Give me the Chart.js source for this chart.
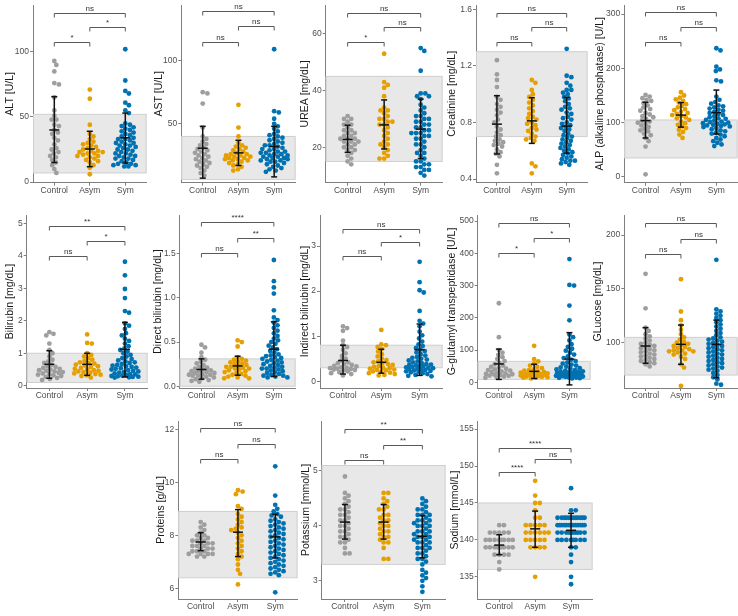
<!DOCTYPE html>
<html>
<head>
<meta charset="utf-8">
<script src="https://cdn.jsdelivr.net/npm/chart.js@4.4.0/dist/chart.umd.min.js"></script>
<style>
  body { margin: 0; background: #fff; }
  #wrap { position: relative; width: 738px; height: 616px; overflow: hidden; }
  canvas { position: absolute; }
</style>
</head>
<body>
<div id="wrap"></div>
<script>
const groups = ['Control', 'Asym', 'Sym'];
const colors = ['#9e9e9e', '#e69f00', '#0072b2'];

// ALT
const altCtrl = [93,90,85,76,75,65,55,51,48,48,44,43,40,38,37,34,32,29,26,25,23,22,20,19,17,15,13,10,7];
const altAsym = [71,64,44,37,35,33,31,30,29,28,27,26,25,24,24,23,23,22,22,21,20,20,19,18,17,16,15,13,11,6];
const altSym = [102,78,70,68,61,59,55,53,45,44,43,42,41,40,39,38,37,36,35,34,33,33,32,31,30,30,29,28,28,27,26,25,25,24,23,22,22,21,20,20,19,18,18,17,16,15,14,14,13,13,12,12];
const altErr = [[15,40,65.6],[11.8,25.4,39],[14.6,34,53]]; // sd low, mean, sd high
const altBand = [7, 52];
const altTicks = ['0', '50', '100'];
const altSig = ['ns', '*', '*'];

// AST
const astCtrl = [75,74,66,47,40,38,36,34,33,31,30,29,28,27,26,25,24,23,22,21,20,19,18,17,16,15,13,11,9];
const astAsym = [65,47,40,35,33,32,31,30,29,28,27,26,26,25,25,24,24,23,23,22,22,21,21,20,19,18,17,16,14,13];
const astSym = [109,60,59,54,50,48,46,44,42,41,40,39,38,37,36,35,34,33,33,32,31,30,30,29,28,28,27,27,26,26,25,25,24,24,23,23,22,22,21,21,20,20,19,18,17,16,15,14,13,12];
const astErr = [[7,30.7,48],[17,27,37],[8,32,48]];
const astBand = [6, 40];
const astTicks = ['50', '100'];
const astSig = ['ns', 'ns', 'ns'];

// UREA
const ureaCtrl = [31,30,30,29,28,28,27,26,26,25,25,24,24,23,23,23,22,22,22,21,21,20,20,19,19,18,17,16,15,14];
const ureaAsym = [53,43,42,41,38,34,33,33,32,31,30,30,29,29,28,28,27,26,25,24,23,22,21,21,20,19,18,17,16,16];
const ureaSym = [55,54,47,39,39,38,38,37,35,34,33,32,31,31,30,30,29,29,28,28,27,27,26,26,25,25,25,24,24,23,23,22,21,21,20,19,18,18,17,16,15,15,14,14,13,13,12,12,11,10];
const ureaErr = [[18.2,22.8,27.8],[19.4,27.9,36.7],[16,26.4,37]];
const ureaBand = [15, 45];
const ureaTicks = ['20', '40', '60'];
const ureaSig = ['ns', 'ns', '*'];

// Creatinine
const creaCtrl = [1.24,1.14,1.10,1.05,0.98,0.96,0.93,0.91,0.89,0.87,0.85,0.82,0.80,0.77,0.75,0.73,0.71,0.70,0.68,0.67,0.66,0.65,0.64,0.63,0.61,0.59,0.58,0.56,0.50,0.44];
const creaAsym = [1.10,1.08,1.03,1.00,0.98,0.96,0.94,0.92,0.90,0.88,0.86,0.84,0.83,0.82,0.80,0.79,0.78,0.76,0.75,0.74,0.72,0.70,0.69,0.68,0.67,0.51,0.49,0.44];
const creaSym = [1.32,1.13,1.12,1.08,1.06,1.03,1.03,1.01,1.00,0.98,0.97,0.95,0.93,0.91,0.90,0.89,0.87,0.86,0.84,0.83,0.82,0.80,0.79,0.78,0.77,0.76,0.75,0.74,0.72,0.71,0.70,0.69,0.68,0.67,0.66,0.65,0.64,0.63,0.62,0.61,0.60,0.59,0.58,0.57,0.56,0.55,0.54,0.53,0.53,0.52,0.51,0.50];
const creaErr = [[0.577,0.788,0.989],[0.652,0.811,0.975],[0.583,0.774,0.977]];
const creaBand = [0.7, 1.3];
const creaTicks = ['0.4', '0.8', '1.2', '1.6'];
const creaSig = ['ns', 'ns', 'ns'];

// ALP
const alpCtrl = [151,148,145,142,140,136,132,128,125,122,118,115,112,110,107,104,102,100,98,95,92,89,86,84,80,77,72,66,56,5];
const alpAsym = [156,150,146,143,140,137,134,131,128,125,123,120,118,116,114,112,110,108,105,102,99,96,93,90,87,83,78,72];
const alpSym = [237,233,203,198,195,178,176,148,142,138,135,132,130,128,126,124,122,120,118,116,114,112,110,108,107,105,104,102,101,100,99,98,97,96,95,94,93,92,90,88,86,84,82,80,78,75,72,69,66,63,60,57];
const alpErr = [[71.8,103.7,137.5],[91.8,114,136.8],[79,118.4,160]];
const alpBand = [35, 105];
const alpTicks = ['0', '100', '200', '300'];
const alpSig = ['ns', 'ns', 'ns'];

// Bilirubin
const biliCtrl = [1.65,1.60,1.55,1.30,1.10,1.00,0.90,0.80,0.75,0.70,0.65,0.60,0.58,0.55,0.52,0.50,0.48,0.46,0.44,0.42,0.40,0.38,0.36,0.34,0.32,0.30,0.27,0.24,0.21,0.18];
const biliAsym = [1.58,1.32,1.30,1.00,0.95,0.90,0.85,0.80,0.76,0.72,0.70,0.68,0.65,0.62,0.60,0.58,0.55,0.52,0.50,0.48,0.46,0.44,0.42,0.40,0.38,0.36,0.34,0.32,0.30,0.25];
const biliSym = [3.82,3.40,2.98,2.70,2.30,2.25,1.92,1.85,1.75,1.62,1.55,1.45,1.38,1.30,1.22,1.15,1.10,1.05,1.00,0.95,0.90,0.85,0.82,0.78,0.75,0.72,0.70,0.67,0.64,0.62,0.60,0.58,0.56,0.54,0.52,0.50,0.48,0.46,0.44,0.42,0.40,0.38,0.36,0.35,0.33,0.31,0.30,0.29,0.28,0.27,0.26,0.25];
const biliErr = [[0.23,0.66,1.08],[0.32,0.66,1.0],[0.27,1.12,1.95]];
const biliBand = [0.1, 1.0];
const biliTicks = ['0', '1', '2', '3', '4', '5'];
const biliSig = ['**', '*', 'ns'];

// Direct bilirubin
const dbilCtrl = [0.47,0.44,0.38,0.33,0.30,0.28,0.26,0.24,0.22,0.21,0.20,0.19,0.18,0.17,0.17,0.16,0.15,0.15,0.14,0.13,0.13,0.12,0.12,0.11,0.10,0.09,0.08,0.07,0.06,0.05];
const dbilAsym = [0.52,0.50,0.45,0.33,0.31,0.30,0.29,0.28,0.27,0.26,0.25,0.24,0.23,0.22,0.22,0.21,0.20,0.20,0.19,0.18,0.17,0.16,0.15,0.14,0.13,0.12,0.11,0.10,0.09,0.09];
const dbilSym = [1.43,1.19,1.12,1.05,0.86,0.78,0.75,0.72,0.69,0.66,0.63,0.60,0.57,0.54,0.52,0.50,0.48,0.46,0.44,0.42,0.40,0.38,0.36,0.35,0.34,0.33,0.32,0.31,0.30,0.29,0.28,0.27,0.26,0.25,0.24,0.23,0.22,0.21,0.20,0.20,0.19,0.18,0.17,0.16,0.15,0.14,0.13,0.12,0.12,0.11,0.10,0.10];
const dbilErr = [[0.08,0.19,0.31],[0.125,0.23,0.34],[0.11,0.42,0.73]];
const dbilBand = [0.0, 0.31];
const dbilTicks = ['0.0', '0.5', '1.0', '1.5'];
const dbilSig = ['****', '**', 'ns'];

// Indirect bilirubin
const ibilCtrl = [1.22,1.18,1.12,0.90,0.80,0.76,0.70,0.62,0.56,0.50,0.46,0.42,0.40,0.38,0.36,0.34,0.33,0.31,0.30,0.29,0.28,0.27,0.26,0.25,0.24,0.22,0.20,0.18,0.16,0.13];
const ibilAsym = [1.14,0.82,0.80,0.76,0.72,0.66,0.60,0.55,0.50,0.47,0.44,0.42,0.40,0.38,0.36,0.34,0.32,0.30,0.29,0.28,0.26,0.25,0.24,0.22,0.21,0.19,0.18,0.16,0.14,0.13];
const ibilSym = [2.65,2.20,2.02,1.97,1.56,1.34,1.28,1.22,1.10,1.02,0.95,0.88,0.82,0.78,0.74,0.70,0.67,0.64,0.60,0.57,0.54,0.52,0.50,0.48,0.46,0.44,0.42,0.40,0.38,0.37,0.36,0.35,0.34,0.33,0.32,0.31,0.30,0.29,0.28,0.27,0.26,0.25,0.24,0.23,0.22,0.21,0.20,0.18,0.16,0.14,0.12,0.11];
const ibilErr = [[0.16,0.46,0.8],[0.18,0.42,0.71],[0.13,0.70,1.27]];
const ibilBand = [0.3, 0.8];
const ibilTicks = ['0', '1', '2', '3'];
const ibilSig = ['ns', '*', 'ns'];

// G-glutamyl transpeptidase
const ggtCtrl = [245,140,100,92,85,78,72,66,60,56,52,48,45,42,40,38,36,34,32,30,28,26,25,24,22,21,20,18,16,14];
const ggtAsym = [113,72,65,58,52,48,44,40,38,36,34,32,30,29,28,27,26,25,24,23,22,21,20,19,18,17,16,15,14,12];
const ggtSym = [382,302,300,238,192,148,140,130,118,110,104,98,92,86,80,75,70,66,62,58,55,52,49,46,44,42,40,38,36,34,33,32,31,30,29,28,27,26,25,24,23,22,21,20,19,18,17,16,15,14,13,12];
const ggtErr = [[9,57,103],[12,34,56],[-8,72,154]];
const ggtBand = [9, 65];
const ggtTicks = ['0', '100', '200', '300', '400', '500'];
const ggtSig = ['ns', '*', '*'];

// Glucose
const gluCtrl = [164,132,114,111,108,106,104,102,100,99,98,97,96,95,94,93,92,91,90,89,88,87,86,85,84,83,82,81,80,78];
const gluAsym = [159,129,121,116,112,108,105,103,101,100,99,98,97,96,95,94,93,93,92,92,91,90,89,87,85,80,77,60];
const gluSym = [177,131,129,127,125,123,121,119,117,115,113,111,109,107,105,104,103,102,101,100,99,98,97,96,95,94,93,92,91,90,89,88,87,86,85,84,83,82,81,80,79,78,77,76,75,74,72,70,68,66,62,61];
const gluErr = [[81,97,114],[80,98.5,116.5],[67.5,98.5,121]];
const gluBand = [70, 105];
const gluTicks = ['100', '150', '200'];
const gluSig = ['ns', 'ns', 'ns'];

// Proteins
const protCtrl = [8.5,8.4,8.3,8.2,8.1,8.0,8.0,7.9,7.9,7.8,7.8,7.8,7.7,7.7,7.7,7.6,7.6,7.6,7.5,7.5,7.5,7.4,7.4,7.4,7.3,7.3,7.3,7.3,7.2,7.2];
const protAsym = [9.7,9.65,9.55,9.1,9.0,8.8,8.7,8.6,8.5,8.4,8.3,8.25,8.2,8.1,8.0,7.9,7.8,7.7,7.6,7.5,7.4,7.3,7.2,7.1,6.9,6.7,6.55,6.15];
const protSym = [10.6,9.5,9.15,9.0,8.9,8.8,8.75,8.7,8.6,8.55,8.5,8.45,8.4,8.35,8.3,8.25,8.2,8.15,8.1,8.05,8.0,7.95,7.9,7.85,7.8,7.75,7.7,7.65,7.6,7.55,7.5,7.45,7.4,7.35,7.3,7.25,7.2,7.15,7.1,7.05,7.0,6.95,6.9,6.85,6.8,6.75,6.7,6.65,6.6,6.55,6.5,5.85];
const protErr = [[7.42,7.75,8.1],[7.2,8.12,8.97],[7.15,7.94,8.8]];
const protBand = [6.4, 8.9];
const protTicks = ['6', '8', '10', '12'];
const protSig = ['ns', 'ns', 'ns'];

// Potassium
const potCtrl = [4.9,4.6,4.55,4.5,4.45,4.4,4.35,4.3,4.3,4.25,4.2,4.2,4.15,4.1,4.1,4.05,4.0,4.0,3.95,3.9,3.9,3.85,3.8,3.8,3.75,3.7,3.7,3.6,3.5,3.5];
const potAsym = [4.6,4.6,4.5,4.45,4.4,4.35,4.3,4.3,4.2,4.2,4.15,4.1,4.1,4.05,4.0,4.0,3.95,3.9,3.9,3.85,3.8,3.8,3.75,3.7,3.7,3.6,3.4,3.4];
const potSym = [4.5,4.45,4.4,4.35,4.3,4.3,4.25,4.2,4.2,4.2,4.15,4.1,4.1,4.1,4.05,4.05,4.0,4.0,4.0,3.95,3.9,3.9,3.9,3.85,3.85,3.8,3.8,3.8,3.75,3.75,3.7,3.7,3.7,3.65,3.6,3.6,3.6,3.55,3.5,3.5,3.45,3.4,3.4,3.35,3.3,3.2,3.15,3.1,3.05,3.0,2.9,2.8];
const potErr = [[3.76,4.07,4.39],[3.76,4.07,4.39],[3.42,3.81,4.19]];
const potBand = [3.3, 5.1];
const potTicks = ['3', '4', '5'];
const potSig = ['**', '**', 'ns'];

// Sodium
const naCtrl = [142,142,141,141,141,141,141,140,140,140,140,140,140,140,140,139,139,139,139,139,139,139,139,139,138,138,138,138,137,136];
const naAsym = [148,146,145,145,144,143,143,142,142,142,142,142,141,141,141,141,141,141,140,140,140,140,140,139,139,139,139,135];
const naSym = [147,144,144,143,143,143,143,143,143,143,143,143,143,143,143,142,142,142,142,142,142,142,142,142,142,142,142,142,141,141,141,141,141,141,141,141,141,141,140,140,140,140,140,140,140,140,139,139,138,137,135,134];
const naErr = [[138,139.3,140.7],[139,141.5,143.9],[139,141.3,143.6]];
const naBand = [136, 145];
const naTicks = ['135', '140', '145', '150', '155'];
const naSig = ['****', 'ns', '****'];

// brackets: Control-Sym, Asym-Sym, Control-Asym
const pairs = [[1, 3], [2, 3], [1, 2]];

// panel frames in page pixels (L/R/T/B = plot area, tx = centre of the y title)
const row1 = {T: 5, B: 182.7}, row2 = {T: 215, B: 388}, row3 = {T: 421, B: 599};

const panels = [
  {title: 'ALT [U/L]', vals: [altCtrl, altAsym, altSym], err: altErr, band: altBand, ticks: altTicks, sig: altSig,
   box: {...row1, L: 33, R: 143, tx: 10, min: -0.5, max: 136, brk: [130, 119, 107.5]}},
  {title: 'AST [U/L]', vals: [astCtrl, astAsym, astSym], err: astErr, band: astBand, ticks: astTicks, sig: astSig,
   box: {...row1, L: 181.3, R: 292, tx: 159.7, min: 3.4, max: 144, brk: [139, 127, 115]}},
  {title: 'UREA [mg/dL]', vals: [ureaCtrl, ureaAsym, ureaSym], err: ureaErr, band: ureaBand, ticks: ureaTicks, sig: ureaSig,
   box: {...row1, L: 325.7, R: 439, tx: 305, min: 7.5, max: 70.2, brk: [67.5, 62.6, 57]}},
  {title: 'Creatinine [mg/dL]', vals: [creaCtrl, creaAsym, creaSym], err: creaErr, band: creaBand, ticks: creaTicks, sig: creaSig,
   box: {...row1, L: 476, R: 584, tx: 452.7, min: 0.374, max: 1.63, brk: [1.576, 1.473, 1.367]}},
  {title: 'ALP (alkaline phosphatase) [U/L]', vals: [alpCtrl, alpAsym, alpSym], err: alpErr, band: alpBand, ticks: alpTicks, sig: alpSig,
   box: {...row1, L: 624.3, R: 734, tx: 600, min: -10.5, max: 316.6, brk: [303.7, 276, 248]}},
  {title: 'Bilirubin [mg/dL]', vals: [biliCtrl, biliAsym, biliSym], err: biliErr, band: biliBand, ticks: biliTicks, sig: biliSig,
   box: {...row2, L: 26.7, R: 144, tx: 10, min: -0.07, max: 5.26, brk: [4.93, 4.46, 4.0]}},
  {title: 'Direct bilirubin [mg/dL]', vals: [dbilCtrl, dbilAsym, dbilSym], err: dbilErr, band: dbilBand, ticks: dbilTicks, sig: dbilSig,
   box: {...row2, L: 179.7, R: 291.3, tx: 158.7, min: -0.02, max: 1.94, brk: [1.86, 1.68, 1.51]}},
  {title: 'Indirect bilirubin [mg/dL]', vals: [ibilCtrl, ibilAsym, ibilSym], err: ibilErr, band: ibilBand, ticks: ibilTicks, sig: ibilSig,
   box: {...row2, L: 320, R: 438.5, tx: 305, min: -0.15, max: 3.69, brk: [3.39, 3.08, 2.78]}},
  {title: 'G-glutamyl transpeptidase [U/L]', vals: [ggtCtrl, ggtAsym, ggtSym], err: ggtErr, band: ggtBand, ticks: ggtTicks, sig: ggtSig,
   box: {...row2, L: 477.7, R: 587, tx: 452, min: -17.6, max: 518.6, brk: [495, 448, 402]}},
  {title: 'GLucose [mg/dL]', vals: [gluCtrl, gluAsym, gluSym], err: gluErr, band: gluBand, ticks: gluTicks, sig: gluSig,
   box: {...row2, L: 624.3, R: 734, tx: 598.3, min: 58, max: 218.6, brk: [211.4, 196.5, 182.5]}},
  {title: 'Proteins [g/dL]', vals: [protCtrl, protAsym, protSym], err: protErr, band: protBand, ticks: protTicks, sig: protSig,
   box: {...row3, L: 178.3, R: 293.5, tx: 161, min: 5.6, max: 12.31, brk: [12.04, 11.43, 10.87]}},
  {title: 'Potassium [mmol/L]', vals: [potCtrl, potAsym, potSym], err: potErr, band: potBand, ticks: potTicks, sig: potSig,
   box: {...row3, L: 321.7, R: 441.5, tx: 306.7, min: 2.67, max: 5.91, brk: [5.77, 5.48, 5.2]}},
  {title: 'Sodium [mmol/L]', vals: [naCtrl, naAsym, naSym], err: naErr, band: naBand, ticks: naTicks, sig: naSig,
   box: {...row3, L: 477.7, R: 588.3, tx: 455, min: 132, max: 156.1, brk: [152.5, 150.9, 149.2]}}
];

Chart.defaults.font.family = '"Liberation Sans", Arial, sans-serif';

// simple beeswarm: horizontal offsets (px) so dots do not sit on top of each other
function swarm(vals, pxY) {
  const D = 4.3, maxOff = 13, placed = [];
  return vals.map(v => {
    const yp = v * pxY;
    let best = 0, bestD = -1;
    for (let k = 0; k <= maxOff * 4; k++) {
      const off = (k % 2 ? 1 : -1) * Math.ceil(k / 2) * 0.5;
      let dmin = Infinity;
      placed.forEach(p => { dmin = Math.min(dmin, Math.hypot(p[0] - off, p[1] - yp)); });
      if (dmin >= D) { best = off; bestD = dmin; break; }
      if (dmin > bestD) { bestD = dmin; best = off; }
    }
    placed.push([best, yp]);
    return best;
  });
}

function extras(p) {
  return {
    id: 'extras',
    beforeDatasetsDraw(chart) {
      const {ctx, chartArea: a, scales: {y}} = chart;
      const t = y.getPixelForValue(p.band[1]), b = y.getPixelForValue(p.band[0]);
      ctx.save();
      ctx.fillStyle = '#e8e8e8';
      ctx.fillRect(a.left, t, a.right - a.left, b - t);
      ctx.strokeStyle = '#cfcfcf';
      ctx.lineWidth = 1;
      ctx.strokeRect(a.left + 0.5, t, a.right - a.left - 1, b - t);
      ctx.restore();
    },
    afterDatasetsDraw(chart) {
      const {ctx, scales: {x, y}} = chart;
      const seg = (x1, y1, x2, y2) => { ctx.beginPath(); ctx.moveTo(x1, y1); ctx.lineTo(x2, y2); ctx.stroke(); };
      ctx.save();
      ctx.strokeStyle = '#111';
      ctx.lineWidth = 1.5;
      p.err.forEach((e, i) => {
        const cx = x.getPixelForValue(i + 1);
        const lo = y.getPixelForValue(e[0]), m = y.getPixelForValue(e[1]), hi = y.getPixelForValue(e[2]);
        seg(cx, lo, cx, hi);
        seg(cx - 3, lo, cx + 3, lo);
        seg(cx - 3, hi, cx + 3, hi);
        seg(cx - 5, m, cx + 5, m);
      });
      ctx.strokeStyle = '#595959';
      ctx.lineWidth = 1;
      ctx.fillStyle = '#333';
      ctx.font = '8px "Liberation Sans", Arial, sans-serif';
      ctx.textAlign = 'center';
      ctx.textBaseline = 'bottom';
      pairs.forEach((pr, i) => {
        const x1 = x.getPixelForValue(pr[0]), x2 = x.getPixelForValue(pr[1]);
        const yy = Math.round(y.getPixelForValue(p.box.brk[i])) + 0.5;
        ctx.beginPath();
        ctx.moveTo(x1, yy + 4); ctx.lineTo(x1, yy); ctx.lineTo(x2, yy); ctx.lineTo(x2, yy + 4);
        ctx.stroke();
        ctx.fillText(p.sig[i], (x1 + x2) / 2, yy - 0.5);
      });
      ctx.restore();
    }
  };
}

const wrap = document.getElementById('wrap');

panels.forEach(p => {
  const b = p.box;
  const left = Math.round(b.tx - 6.3), top = Math.round(b.T - 8);
  const w = Math.ceil(b.R + 6 - left), h = Math.ceil(b.B + 15 - top);
  const cv = document.createElement('canvas');
  cv.width = w; cv.height = h;
  cv.style.left = left + 'px'; cv.style.top = top + 'px';
  cv.style.width = w + 'px'; cv.style.height = h + 'px';
  wrap.appendChild(cv);

  const pxY = (b.B - b.T) / (b.max - b.min);
  const pxX = (b.R - b.L) / 3.2;
  const datasets = p.vals.map((vals, i) => {
    const offs = swarm(vals, pxY);
    return {
      data: vals.map((v, j) => ({x: i + 1 + offs[j] / pxX, y: v})),
      backgroundColor: colors[i],
      borderWidth: 0,
      pointRadius: 2.4,
      pointHoverRadius: 2.4
    };
  });

  new Chart(cv, {
    type: 'scatter',
    data: {datasets: datasets},
    options: {
      responsive: false,
      animation: false,
      events: [],
      layout: {padding: {left: 0, top: b.T - top, right: w - b.R, bottom: 0}},
      plugins: {legend: {display: false}, tooltip: {enabled: false}},
      scales: {
        x: {
          type: 'linear', min: 0.4, max: 3.6,
          afterBuildTicks: s => { s.ticks = [1, 2, 3].map(v => ({value: v})); },
          afterFit: s => { s.height = h - (b.B - top); },
          ticks: {callback: v => groups[v - 1], color: '#4d4d4d', font: {size: 8.5}, padding: 0, autoSkip: false, maxRotation: 0},
          grid: {drawOnChartArea: false, tickLength: 3, color: '#7f7f7f'},
          border: {color: '#7f7f7f', width: 1}
        },
        y: {
          min: b.min, max: b.max,
          afterBuildTicks: s => { s.ticks = p.ticks.map(t => ({value: Number(t)})); },
          afterFit: s => { s.width = b.L - left; },
          ticks: {callback: (v, i) => p.ticks[i], color: '#4d4d4d', font: {size: 8.5}, padding: 1, autoSkip: false},
          grid: {drawOnChartArea: false, tickLength: 3, color: '#7f7f7f'},
          border: {color: '#7f7f7f', width: 1},
          title: {display: true, text: p.title, color: '#1a1a1a', font: {size: 10.5}, padding: 0}
        }
      }
    },
    plugins: [extras(p)]
  });
});
</script>
</body>
</html>
